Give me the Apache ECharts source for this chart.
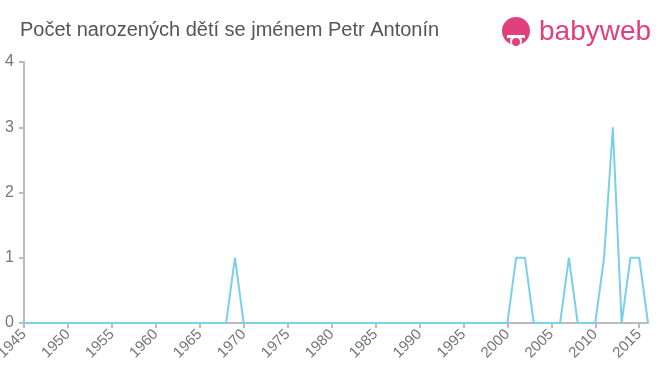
<!DOCTYPE html>
<html><head><meta charset="utf-8">
<script src="https://cdn.jsdelivr.net/npm/echarts@6/dist/echarts.min.js"></script>
<style>html,body{margin:0;padding:0;background:#fff}#c{width:660px;height:375px}</style>
</head><body><div id="c"></div>
<script>
const years = [];
for (let y = 1945; y <= 2016; y++) years.push(y);
const nonZero = {1969: 1, 2001: 1, 2002: 1, 2007: 1, 2011: 1, 2012: 3, 2014: 1, 2015: 1};
const counts = years.map(y => nonZero[y] || 0);
const yTicks = [0, 1, 2, 3, 4];

const chart = echarts.init(document.getElementById('c'));
chart.setOption({
  animation: false,
  title: {
    text: 'Počet narozených dětí se jménem Petr Antonín',
    left: 15, top: 15,
    textStyle: {fontFamily: 'Arial, Liberation Sans', fontSize: 20, fontWeight: 'normal', color: '#555'}
  },
  grid: {left: 24, right: 12, top: 62, bottom: 52, containLabel: false, outerBoundsMode: 'none'},
  xAxis: {
    type: 'value', min: 1945, max: 2016, interval: 5,
    axisLine: {show: true, lineStyle: {color: '#bbb', width: 2}},
    axisTick: {show: true, length: 5, lineStyle: {color: '#bbb', width: 2}},
    splitLine: {show: false},
    axisLabel: {
      rotate: 45, color: '#777', fontSize: 15, fontFamily: 'Arial, Liberation Sans', margin: 9,
      showMaxLabel: false,
      formatter: v => (v % 5 === 0 ? String(v) : '')
    }
  },
  yAxis: {
    type: 'value', min: 0, max: 4, interval: 1,
    axisLine: {show: true, lineStyle: {color: '#bbb', width: 2}},
    axisTick: {show: true, length: 5, lineStyle: {color: '#bbb', width: 2}},
    splitLine: {show: false},
    axisLabel: {color: '#777', fontSize: 16, fontFamily: 'Arial, Liberation Sans', margin: 10,
      formatter: v => String(v)}
  },
  series: [{
    type: 'line',
    data: years.map((y, i) => [y, counts[i]]),
    showSymbol: false,
    lineStyle: {color: '#7ccfea', width: 2},
    itemStyle: {color: '#7ccfea'}
  }],
  graphic: [
    {type: 'circle', shape: {cx: 516, cy: 31, r: 14}, style: {fill: '#e0407c'}},
    {type: 'circle', shape: {cx: 516, cy: 41, r: 6}, style: {fill: '#fff'}},
    {type: 'rect', shape: {x: 507, y: 35, width: 18, height: 3}, style: {fill: '#fff'}},
    {type: 'circle', shape: {cx: 516, cy: 42, r: 4}, style: {fill: '#e0407c'}},
    {type: 'text', left: 539, top: 18,
      style: {text: 'babyweb', fill: '#e0407c', fontSize: 28, fontFamily: 'Arial, Liberation Sans'}}
  ]
});
</script></body></html>
